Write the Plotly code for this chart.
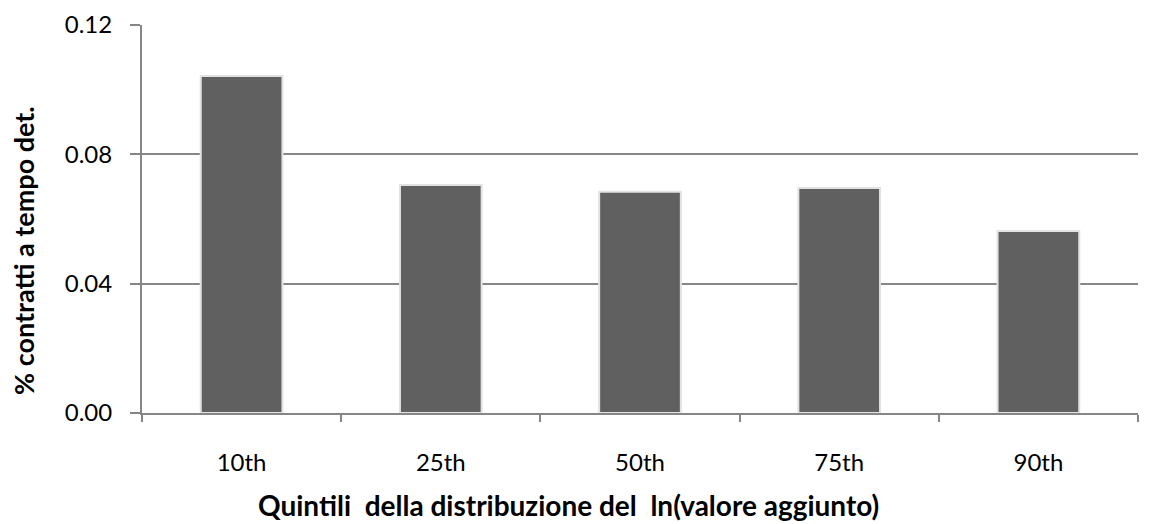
import plotly.graph_objects as go

categories = ["10th", "25th", "50th", "75th", "90th"]
values = [0.1042, 0.0705, 0.0684, 0.0696, 0.0563]
y_ticks = [0.0, 0.04, 0.08, 0.12]
y_tick_labels = ["0.00", "0.04", "0.08", "0.12"]
x_title = "Quintili&nbsp; della distribuzione del&nbsp; ln(valore aggiunto)"
y_title = "% contratti a tempo det."

FONT = "Lato, Open Sans, sans-serif"
AX = "#868686"

fig = go.Figure()
fig.add_trace(go.Bar(
    x=categories, y=values,
    marker=dict(color="#606060", line=dict(color="#e2e2e2", width=2)),
))

fig.update_layout(
    width=1151, height=524,
    margin=dict(l=142, r=13, t=25, b=111, autoexpand=False),
    paper_bgcolor="white", plot_bgcolor="white",
    bargap=0.59,
    showlegend=False,
    font=dict(family=FONT, size=24, color="black"),
)
fig.update_xaxes(
    automargin=False,
    showline=True, linecolor=AX, linewidth=2,
    ticks="outside", tickson="boundaries", ticklen=7, tickcolor=AX, tickwidth=2,
    ticklabelstandoff=27,
    tickfont=dict(size=24, family=FONT),
)
fig.update_yaxes(
    automargin=False,
    range=[0, 0.12], tickvals=y_ticks, ticktext=y_tick_labels,
    showline=True, linecolor=AX, linewidth=2,
    showgrid=True, gridcolor=AX, gridwidth=1.5,
    ticks="outside", ticklen=10, tickcolor=AX, tickwidth=2,
    ticklabelstandoff=13,
    tickfont=dict(size=24, family=FONT),
    zeroline=False,
)

# axis titles
fig.add_annotation(
    text="<b>" + x_title + "</b>", xref="paper", yref="paper",
    x=(568 - 142) / 996, y=0, xanchor="center", yanchor="bottom",
    yshift=-111, showarrow=False, font=dict(size=28, family=FONT, color="black"),
)
fig.add_annotation(
    text="<b>" + y_title + "</b>", xref="paper", yref="paper",
    x=0, y=(413 - 251) / 388, xanchor="center", yanchor="middle", textangle=-90,
    xshift=-118, showarrow=False, font=dict(size=27, family=FONT, color="black"),
)

fig.write_html("out.html")
